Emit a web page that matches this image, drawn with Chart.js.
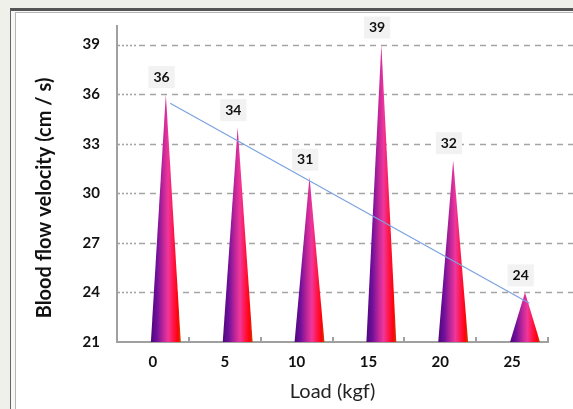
<!DOCTYPE html>
<html>
<head>
<meta charset="utf-8">
<script src="https://cdn.jsdelivr.net/npm/chart.js@4.4.0/dist/chart.umd.min.js"></script>
<style>
  html, body { margin: 0; padding: 0; background: #f0f0eb; overflow: hidden; }
  .frame { position: absolute; left: 10px; top: 8px; width: 620px; height: 440px;
    border-top: 3px solid #555; border-left: 1px solid #666; background: #f7f7f5; }
  .panel { position: absolute; left: 4px; top: 1px; right: 0; bottom: 0;
    border-top: 1px solid #b5b5b5; border-left: 1px solid #b5b5b5; background: #fff; }
  #wrap { position: absolute; left: 0; top: 0; width: 573px; height: 409px; }
</style>
</head>
<body>
<div class="frame"><div class="panel"></div></div>
<div id="wrap"><canvas id="coneChart"></canvas></div>
<script>
// ---- data ----
const loads = ['0', '5', '10', '15', '20', '25'];          // kgf
const velocity = [36, 34, 31, 39, 32, 24];                   // cm / s
const yTicks = [21, 24, 27, 30, 33, 36, 39];
// linear trend line, end points as drawn
const trendLoad = [0, 25];
const trendVelocity = [35.45, 23.35];

// ---- look ----
const FONT = 'Lato, "Open Sans", sans-serif';
const CONE_SHIFT = 0.18;    // cones sit right of the category centre
const LABEL_SHIFT = 0.12;
const TREND_SHIFT = 0.24;
const Y_TITLE = 'Blood flow velocity (cm / s)';

function coneGradient(ctx, x0, x1) {
  const g = ctx.createLinearGradient(x0, 0, x1, 0);
  g.addColorStop(0, '#4e067c');
  g.addColorStop(0.2, '#70109a');
  g.addColorStop(0.45, '#cc2a98');
  g.addColorStop(0.58, '#f0369c');
  g.addColorStop(0.75, '#ff1648');
  g.addColorStop(0.9, '#ff0208');
  g.addColorStop(1, '#c24800');
  return g;
}

const conePlugin = {
  id: 'cones',
  beforeDatasetsDraw(chart) {
    const { ctx, chartArea } = chart;
    const y = chart.scales.y;
    const x = chart.scales.x;
    const step = x.getPixelForValue(1) - x.getPixelForValue(0);

    // dashed grid lines running to the right edge
    ctx.save();
    ctx.strokeStyle = '#a4a4a4';
    ctx.lineWidth = 1.6;
    yTicks.forEach(v => {
      if (v <= y.min) return;
      const py = Math.round(y.getPixelForValue(v)) + 0.5;
      ctx.setLineDash([2, 2]);
      ctx.beginPath();
      ctx.moveTo(chartArea.left + 1, py);
      ctx.lineTo(chartArea.left + 20, py);
      ctx.stroke();
      ctx.setLineDash([6, 5]);
      ctx.beginPath();
      ctx.moveTo(chartArea.left + 22, py);
      ctx.lineTo(chart.width, py);
      ctx.stroke();
    });
    ctx.setLineDash([]);

    // small upward tick marks on the x axis
    ctx.strokeStyle = '#a0a0a0';
    ctx.lineWidth = 2;
    loads.forEach((l, i) => {
      const px = Math.round(x.getPixelForValue(i) + step / 2);
      ctx.beginPath();
      ctx.moveTo(px, chartArea.bottom);
      ctx.lineTo(px, chartArea.bottom - 5);
      ctx.stroke();
    });

    // cones
    const base = y.getPixelForValue(yTicks[0]);
    const meta = chart.getDatasetMeta(0);
    meta.data.forEach(bar => {
      const p = bar.getProps(['x', 'y', 'width'], true);
      const cx = p.x + step * CONE_SHIFT;
      const x0 = cx - p.width / 2, x1 = cx + p.width / 2;
      ctx.fillStyle = coneGradient(ctx, x0, x1);
      ctx.beginPath();
      ctx.moveTo(cx, p.y);
      ctx.lineTo(x1, base);
      ctx.lineTo(x0, base);
      ctx.closePath();
      ctx.fill();
    });
    ctx.restore();
  },
  afterDatasetsDraw(chart) {
    const { ctx, chartArea } = chart;
    const x = chart.scales.x;
    const step = x.getPixelForValue(1) - x.getPixelForValue(0);
    const meta = chart.getDatasetMeta(0);
    ctx.save();
    ctx.font = 'bold 14px ' + FONT;
    ctx.textAlign = 'center';
    ctx.textBaseline = 'middle';
    meta.data.forEach((bar, i) => {
      const p = bar.getProps(['x', 'y'], true);
      const txt = String(velocity[i]);
      const cx = p.x + step * LABEL_SHIFT;
      const cy = p.y - 17;
      const w = ctx.measureText(txt).width + 10;
      ctx.fillStyle = '#f2f2f2';
      ctx.fillRect(cx - w / 2, cy - 11, w, 22);
      ctx.fillStyle = '#111';
      ctx.fillText(txt, cx, cy);
    });

    // y axis title, a little below the axis middle as in the source
    ctx.font = 'bold 20px ' + FONT;
    ctx.translate(45, (chartArea.top + chartArea.bottom) / 2 + 14);
    ctx.rotate(-Math.PI / 2);
    ctx.fillText(Y_TITLE, 0, 0);
    ctx.restore();
  }
};

new Chart(document.getElementById('coneChart'), {
  type: 'bar',
  data: {
    labels: loads,
    datasets: [
      {
        label: 'Blood flow velocity',
        data: velocity,
        grouped: false,
        backgroundColor: 'rgba(0,0,0,0)',
        borderWidth: 0,
        categoryPercentage: 0.8,
        barPercentage: 0.52
      },
      {
        type: 'line',
        label: 'Trend',
        xAxisID: 'xt',
        data: trendLoad.map((l, i) => ({ x: l / 5 + TREND_SHIFT, y: trendVelocity[i] })),
        borderColor: '#7aa2e0',
        borderWidth: 1.2,
        pointRadius: 0,
        fill: false
      }
    ]
  },
  options: {
    responsive: true,
    maintainAspectRatio: false,
    animation: false,
    layout: { padding: { top: 25, right: 25, left: 0, bottom: 0 } },
    plugins: { legend: { display: false }, tooltip: { enabled: false } },
    scales: {
      x: {
        grid: { display: false, drawTicks: false },
        border: { display: true, color: '#a0a0a0', width: 2 },
        ticks: { color: '#111', font: { family: FONT, size: 15, weight: 'bold' }, padding: 11 },
        title: {
          display: true,
          text: 'Load (kgf)',
          color: '#222',
          font: { family: FONT, size: 20 },
          padding: { top: 0, bottom: 5 }
        },
        afterFit: s => { s.height = 67; }
      },
      xt: {
        type: 'linear',
        display: false,
        offset: false,
        bounds: 'data',
        min: -0.5,
        max: 5.5
      },
      y: {
        min: 21,
        max: 40.12,
        afterBuildTicks: s => { s.ticks = yTicks.map(v => ({ value: v })); },
        grid: { display: false, drawTicks: false },
        border: { display: true, color: '#a0a0a0', width: 2 },
        ticks: { color: '#111', font: { family: FONT, size: 15, weight: 'bold' }, padding: 17 },
        afterFit: s => { s.width = 117; }
      }
    }
  },
  plugins: [conePlugin]
});
</script>
</body>
</html>
